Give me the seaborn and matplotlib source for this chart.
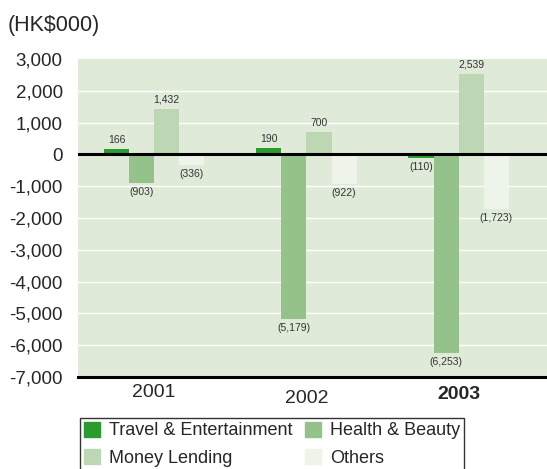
import matplotlib
matplotlib.use("Agg")
import matplotlib.pyplot as plt
import matplotlib.transforms as mtrans
import seaborn as sns
import pandas as pd

years = ["2001", "2002", "2003"]
series = ["Travel & Entertainment", "Health & Beauty", "Money Lending", "Others"]
travel = [166, 190, -110]
health = [-903, -5179, -6253]
money = [1432, 700, 2539]
others = [-336, -922, -1723]
colors = ["#2b9a2f", "#94c28a", "#bdd7b4", "#eff4ea"]
yticks = [3000, 2000, 1000, 0, -1000, -2000, -3000, -4000, -5000, -6000, -7000]

values = [travel, health, money, others]
rows = []
for s, vals in zip(series, values):
    for y, v in zip(years, vals):
        rows.append({"Year": y, "Segment": s, "Value": v})
df = pd.DataFrame(rows)

sns.set_theme(style="white")
plt.rcParams['font.family'] = ['Liberation Sans', 'DejaVu Sans']

fig = plt.figure(figsize=(5.47, 4.69), dpi=100)
ax = fig.add_axes([78/547, 1-377/469, 1-78/547, (377-59)/469])
ax.set_facecolor("#dfead8")

sns.barplot(data=df, x="Year", y="Value", hue="Segment", hue_order=series,
            palette=colors, width=0.66, saturation=1, ax=ax, legend=True,
            edgecolor="none", linewidth=0, zorder=3)

ax.set_ylim(-7000, 3000)
ax.set_xlim(-0.5, 2.58)
ax.set_yticks(yticks)
ax.set_yticklabels([f"{t:,}" for t in yticks], fontsize=13.5)
ax.tick_params(axis="y", length=0, pad=11)
ax.tick_params(axis="x", length=0, pad=5)
ax.set_xticks([0, 1, 2])
ax.set_xticklabels(years, fontsize=14)
xl = ax.get_xticklabels()
xl[2].set_fontweight("bold")
offs = [0, -6, -2]
for lbl, o in zip(xl, offs):
    lbl.set_transform(lbl.get_transform() + mtrans.ScaledTranslation(0, o/100, fig.dpi_scale_trans))
ax.set_xlabel("")
ax.set_ylabel("")
for t in yticks:
    if t not in (0, -7000, 3000):
        ax.axhline(t, color="white", lw=1, zorder=1)
ax.axhline(0, color="black", lw=2.2, zorder=4)
for sp in ["top", "right", "left"]:
    ax.spines[sp].set_visible(False)
ax.spines["bottom"].set_color("black")
ax.spines["bottom"].set_linewidth(2.2)
ax.spines["bottom"].set_zorder(5)

lab_font = ['Liberation Sans Narrow', 'Liberation Sans', 'DejaVu Sans']
for cont, vals in zip(ax.containers, values):
    for bar, v in zip(cont, vals):
        x = bar.get_x() + bar.get_width()/2
        if v >= 0:
            ax.annotate(f"{v:,}", (x, v), xytext=(0, 3), textcoords="offset points",
                        ha="center", va="bottom", fontsize=7.5, family=lab_font,
                        color="#333333", zorder=6)
        else:
            ax.annotate(f"({-v:,})", (x, v), xytext=(0, -3), textcoords="offset points",
                        ha="center", va="top", fontsize=7.5, family=lab_font,
                        color="#333333", zorder=6)

ax.get_legend().remove()
handles = [plt.Rectangle((0, 0), 1, 1, color=c) for c in colors]
order = [0, 2, 1, 3]
leg = fig.legend([handles[i] for i in order], [series[i] for i in order],
                 ncol=2, loc="upper left", bbox_to_anchor=(80/547, 1-418/469),
                 frameon=True, fontsize=13, handlelength=0.9, handleheight=0.9,
                 handletextpad=0.5, columnspacing=0.7, borderpad=0.2,
                 labelspacing=0.55, fancybox=False, borderaxespad=0)
leg.get_frame().set_edgecolor("black")
leg.get_frame().set_linewidth(1)

fig.text(8/547, 1-25/469, "(HK$000)", fontsize=15.5, va="center", ha="left")

fig.savefig("out.png", dpi=100)
